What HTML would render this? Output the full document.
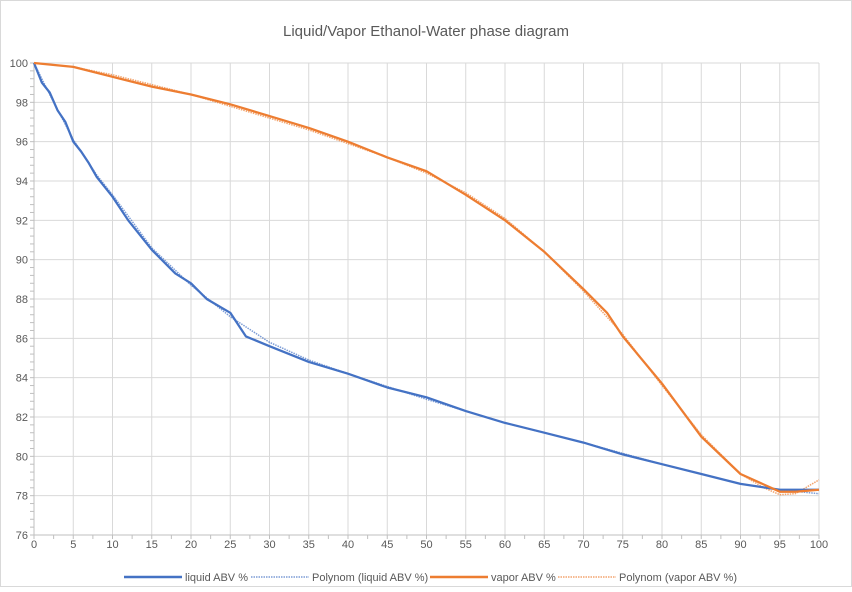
<!DOCTYPE html>
<html><head><meta charset="utf-8"><style>
body{margin:0;background:#fff;font-family:"Liberation Sans",sans-serif;}
svg text{font-family:"Liberation Sans",sans-serif;fill:#595959;}
</style></head><body>
<svg id="chart" width="852" height="587">
<rect x="0.5" y="0.5" width="851" height="586" fill="#fff" stroke="#d9d9d9"/>
<text x="426" y="36" text-anchor="middle" font-size="15">Liquid/Vapor Ethanol-Water phase diagram</text>
<g id="grid"></g><g id="axes"></g><g id="series"></g>
<g id="legend">
<line x1="124" y1="577" x2="182" y2="577" stroke="#4472c4" stroke-width="2.5"/>
<text x="185" y="581" font-size="11">liquid ABV %</text>
<line x1="251" y1="577" x2="309" y2="577" stroke="#4472c4" stroke-width="1.5" stroke-dasharray="1.5,1" opacity="0.7"/>
<text x="312" y="581" font-size="11">Polynom (liquid ABV %)</text>
<line x1="430" y1="577" x2="488" y2="577" stroke="#ed7d31" stroke-width="2.5"/>
<text x="491" y="581" font-size="11">vapor ABV %</text>
<line x1="558" y1="577" x2="616" y2="577" stroke="#ed7d31" stroke-width="1.5" stroke-dasharray="1.5,1" opacity="0.7"/>
<text x="619" y="581" font-size="11">Polynom (vapor ABV %)</text>
</g>
</svg>
<script>
const xTicks=[0,5,10,15,20,25,30,35,40,45,50,55,60,65,70,75,80,85,90,95,100];
const yTicks=[76,78,80,82,84,86,88,90,92,94,96,98,100];
const liquidX=[0,1,2,3,4,5,6,7,8,10,12,15,18,20,22,25,27,30,35,40,45,50,55,60,65,70,75,80,85,90,95,100];
const liquidY=[100,99,98.5,97.6,97,96,95.5,94.9,94.2,93.2,92,90.5,89.3,88.8,88,87.3,86.1,85.6,84.8,84.2,83.5,83,82.3,81.7,81.2,80.7,80.1,79.6,79.1,78.6,78.3,78.3];
const liquidPolyX=[0,2,5,8,10,15,20,25,30,35,40,50,60,70,80,90,95,100];
const liquidPolyY=[100,98.4,96.1,94.3,93.3,90.6,88.7,87.1,85.8,84.9,84.2,82.9,81.7,80.7,79.6,78.6,78.3,78.1];
const vaporX=[0,5,10,15,20,25,30,35,40,45,50,55,60,65,70,73,75,80,85,90,95,97,100];
const vaporY=[100,99.8,99.3,98.8,98.4,97.9,97.3,96.7,96,95.2,94.5,93.3,92,90.4,88.5,87.3,86.1,83.7,81,79.1,78.2,78.2,78.3];
const vaporPolyX=[0,5,10,15,20,25,30,35,40,45,50,55,60,65,70,75,80,85,90,93,95,97,100];
const vaporPolyY=[100,99.8,99.4,98.9,98.4,97.8,97.2,96.6,95.9,95.2,94.4,93.4,92.1,90.4,88.4,86.2,83.6,81.1,79.1,78.4,78.05,78.1,78.8];
const X=v=>34+v*7.85, Y=v=>63+(100-v)*19.667;
const NS="http://www.w3.org/2000/svg";
function mk(tag,attrs,parent){const e=document.createElementNS(NS,tag);for(const k in attrs)e.setAttribute(k,attrs[k]);parent.appendChild(e);return e;}
const grid=document.getElementById('grid'),axes=document.getElementById('axes'),ser=document.getElementById('series');
xTicks.forEach(t=>{if(t>0){const l=mk('line',{x1:X(t),x2:X(t),y1:Y(100),y2:Y(76),stroke:'#d9d9d9'},grid);

}
const tx=mk('text',{x:X(t),y:548,'font-size':11,'text-anchor':'middle'},axes);tx.textContent=t;

});
yTicks.forEach(t=>{if(t>76){const l=mk('line',{x1:X(0),x2:X(100),y1:Y(t),y2:Y(t),stroke:'#d9d9d9'},grid);

}
const tx=mk('text',{x:28,y:Y(t)+4,'font-size':11,'text-anchor':'end'},axes);tx.textContent=t;

});
for(let v=76;v<=100.01;v+=0.4)mk('line',{x1:X(0)-4,x2:X(0),y1:Y(v),y2:Y(v),stroke:'#bfbfbf'},axes);
for(let v=0;v<=100;v+=2.5)mk('line',{x1:X(v),x2:X(v),y1:Y(76),y2:Y(76)+4,stroke:'#bfbfbf'},axes);
const xa=mk('line',{x1:X(0),x2:X(100),y1:Y(76),y2:Y(76),stroke:'#bfbfbf'},axes);


const ya=mk('line',{x1:X(0),x2:X(0),y1:Y(100),y2:Y(76),stroke:'#bfbfbf'},axes);


function pts(xs,ys){return xs.map((x,i)=>X(x).toFixed(1)+','+Y(ys[i]).toFixed(1)).join(' ');}
const lp=mk('polyline',{points:pts(liquidPolyX,liquidPolyY),fill:'none',stroke:'#4472c4','stroke-width':1.5,'stroke-dasharray':'1.5,1',opacity:0.7},ser);


const vp=mk('polyline',{points:pts(vaporPolyX,vaporPolyY),fill:'none',stroke:'#ed7d31','stroke-width':1.5,'stroke-dasharray':'1.5,1',opacity:0.7},ser);


const ll=mk('polyline',{points:pts(liquidX,liquidY),fill:'none',stroke:'#4472c4','stroke-width':2.25,'stroke-linejoin':'round'},ser);


const vl=mk('polyline',{points:pts(vaporX,vaporY),fill:'none',stroke:'#ed7d31','stroke-width':2.25,'stroke-linejoin':'round'},ser);


</script>
</body></html>
